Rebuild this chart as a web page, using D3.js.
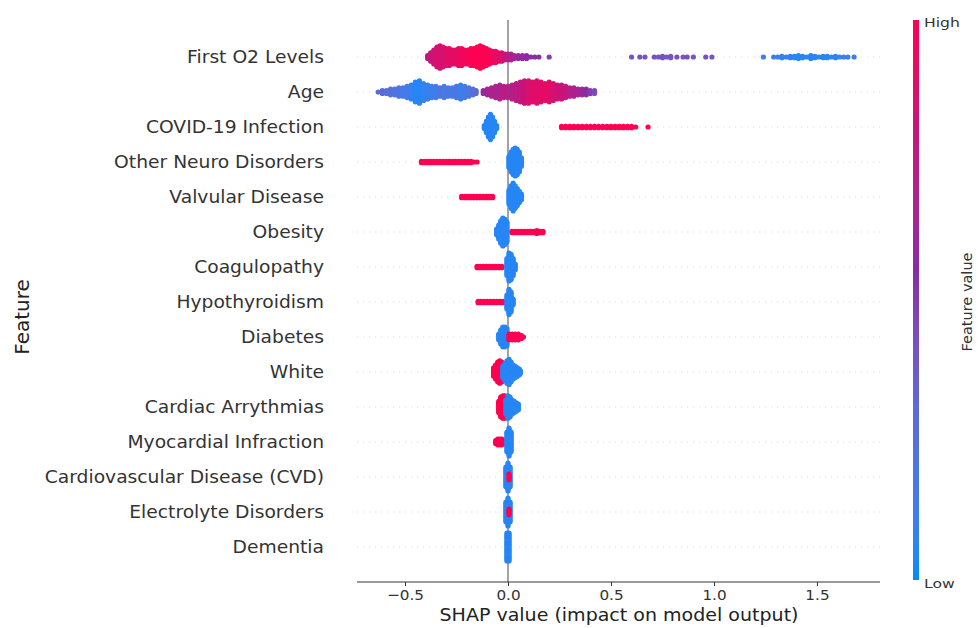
<!DOCTYPE html>
<html><head><meta charset="utf-8">
<script src="https://cdn.jsdelivr.net/npm/d3@7"></script>
<style>body{margin:0;background:#fff;} svg text{font-family:"DejaVu Sans",sans-serif;}</style>
</head><body><svg id="c" width="978" height="628"></svg>
<script>
// Feature names (top to bottom)
const features = ["First O2 Levels","Age","COVID-19 Infection","Other Neuro Disorders","Valvular Disease","Obesity","Coagulopathy","Hypothyroidism","Diabetes","White","Cardiac Arrythmias","Myocardial Infraction","Cardiovascular Disease (CVD)","Electrolyte Disorders","Dementia"];
const xTicks = [-0.5, 0, 0.5, 1, 1.5];
// Swarm bins: [SHAP value, number of stacked points, feature value 0(low)..1(high)]
const firstO2 = [[-0.39,3,0.8],[-0.375,7,0.8],[-0.36,11,0.82],[-0.345,15,0.85],[-0.33,17,0.85],[-0.315,15,0.85],[-0.3,13,0.88],[-0.285,13,0.9],[-0.27,11,0.9],[-0.255,11,0.92],[-0.24,13,0.92],[-0.225,13,0.95],[-0.21,11,0.95],[-0.195,11,0.97],[-0.18,13,1],[-0.165,13,1],[-0.15,15,1],[-0.135,17,1],[-0.12,15,1],[-0.105,13,1],[-0.09,11,0.98],[-0.075,9,0.95],[-0.06,9,0.92],[-0.045,7,0.9],[-0.03,7,0.85],[-0.015,5,0.8],[0,5,0.75],[0.015,5,0.7],[0.03,3,0.65],[0.05,3,0.6],[0.07,3,0.6],[0.09,3,0.55],[0.11,1,0.55],[0.13,1,0.55],[0.15,1,0.55],[0.2,1,0.5],
 [0.6,1,0.42],[0.64,1,0.42],[0.665,1,0.4],[0.71,1,0.42],[0.73,1,0.4],[0.75,2,0.42],[0.77,1,0.4],[0.79,2,0.4],[0.82,1,0.42],[0.85,1,0.4],[0.87,1,0.42],[0.9,1,0.4],[0.96,1,0.42],[0.99,1,0.4],
 [1.24,1,0.15],[1.29,1,0.1],[1.31,1,0.1],[1.33,2,0.08],[1.35,1,0.1],[1.37,2,0.08],[1.39,2,0.06],[1.41,3,0.05],[1.43,2,0.06],[1.45,1,0.08],[1.47,3,0.05],[1.49,2,0.06],[1.51,1,0.08],[1.53,2,0.05],[1.55,2,0.06],[1.57,1,0.1],[1.59,2,0.05],[1.61,1,0.08],[1.63,1,0.1],[1.65,1,0.12],[1.68,1,0.12]];
const age = [[-0.63,1,0.3],[-0.61,3,0.3],[-0.59,3,0.25],[-0.57,5,0.25],[-0.55,5,0.2],[-0.53,7,0.2],[-0.51,7,0.15],[-0.49,9,0.15],[-0.47,11,0.1],[-0.45,15,0.05],[-0.43,17,0.05],[-0.41,13,0.08],[-0.39,11,0.1],[-0.37,9,0.12],[-0.35,9,0.15],[-0.33,7,0.2],[-0.31,9,0.15],[-0.29,7,0.2],[-0.27,7,0.15],[-0.25,9,0.2],[-0.23,11,0.1],[-0.21,9,0.15],[-0.19,7,0.2],[-0.17,5,0.25],[-0.155,3,0.3],
 [-0.12,3,0.6],[-0.1,5,0.65],[-0.08,7,0.7],[-0.06,9,0.65],[-0.04,11,0.7],[-0.02,9,0.75],[0,9,0.7],[0.02,11,0.72],[0.04,13,0.75],[0.06,15,0.78],[0.08,17,0.8],[0.1,17,0.85],[0.12,15,0.9],[0.14,17,0.88],[0.16,15,0.9],[0.18,13,0.92],[0.2,15,0.88],[0.22,13,0.85],[0.24,11,0.82],[0.26,11,0.8],[0.28,9,0.78],[0.3,7,0.72],[0.32,7,0.7],[0.34,5,0.65],[0.36,5,0.6],[0.38,5,0.55],[0.4,3,0.5],[0.42,3,0.45]];
const covid = [[-0.115,3,0.05],[-0.105,9,0.05],[-0.095,15,0.05],[-0.085,19,0.05],[-0.075,15,0.05],[-0.065,9,0.05],[-0.055,3,0.05],
 [0.26,2,1],[0.28,2,1],[0.3,2,1],[0.32,2,1],[0.34,2,1],[0.36,2,1],[0.38,2,1],[0.4,2,1],[0.42,2,1],[0.44,2,1],[0.46,2,1],[0.48,2,1],[0.5,2,1],[0.52,2,1],[0.54,2,1],[0.56,2,1],[0.58,2,1],[0.6,2,1],[0.62,1,1],[0.68,1,1]];
const otherNeuro = [[-0.42,2,1],[-0.405,2,1],[-0.39,2,1],[-0.375,2,1],[-0.36,2,1],[-0.345,2,1],[-0.33,2,1],[-0.315,2,1],[-0.3,2,1],[-0.285,2,1],[-0.27,2,1],[-0.255,2,1],[-0.24,2,1],[-0.225,2,1],[-0.21,2,1],[-0.195,2,1],[-0.18,2,1],[-0.165,1,1],[-0.15,1,1],
 [0.005,9,0.05],[0.015,15,0.05],[0.025,19,0.05],[0.035,21,0.05],[0.045,19,0.05],[0.055,15,0.05],[0.065,7,0.05]];
const valvular = [[-0.225,2,1],[-0.21,2,1],[-0.195,2,1],[-0.18,2,1],[-0.165,2,1],[-0.15,2,1],[-0.135,2,1],[-0.12,2,1],[-0.105,2,1],[-0.09,2,1],[-0.075,2,1],
 [0.005,11,0.05],[0.015,17,0.05],[0.025,21,0.05],[0.035,17,0.05],[0.045,13,0.05],[0.055,9,0.05],[0.065,5,0.05]];
const obesity = [[-0.055,5,0.05],[-0.045,11,0.05],[-0.035,17,0.05],[-0.025,21,0.05],[-0.015,19,0.05],[-0.005,15,0.05],
 [0.02,2,1],[0.035,2,1],[0.05,2,1],[0.065,2,1],[0.08,2,1],[0.095,2,1],[0.11,2,1],[0.125,2,1],[0.14,3,1],[0.155,2,1],[0.17,2,1]];
const coagulopathy = [[-0.15,2,1],[-0.135,2,1],[-0.12,2,1],[-0.105,2,1],[-0.09,2,1],[-0.075,2,1],[-0.06,2,1],[-0.045,2,1],[-0.03,2,1],
 [-0.005,13,0.05],[0.005,21,0.05],[0.015,19,0.05],[0.025,13,0.05],[0.035,5,0.05]];
const hypothyroidism = [[-0.145,2,1],[-0.13,2,1],[-0.115,2,1],[-0.1,2,1],[-0.085,2,1],[-0.07,2,1],[-0.055,2,1],[-0.04,2,1],[-0.025,2,1],
 [-0.005,11,0.05],[0.005,19,0.05],[0.015,15,0.05],[0.025,5,0.05]];
const diabetes = [[-0.045,5,0.05],[-0.035,11,0.05],[-0.025,15,0.05],[-0.015,15,0.05],[-0.005,13,0.05],
 [0.005,5,1],[0.02,5,1],[0.035,5,1],[0.05,5,1],[0.065,3,1],[0.075,1,1]];
const white = [[-0.07,7,1],[-0.06,11,1],[-0.05,15,1],[-0.04,17,1],[-0.03,15,1],[-0.02,13,1],[-0.01,11,1],
 [-0.025,9,0.05],[-0.015,13,0.05],[-0.005,17,0.05],[0.005,19,0.05],[0.015,15,0.05],[0.025,11,0.05],[0.035,9,0.05],[0.045,7,0.05],[0.055,5,0.05],[0.06,3,0.05]];
const cardiac = [[-0.045,9,1],[-0.035,15,1],[-0.025,17,1],[-0.015,17,1],[-0.005,13,1],
 [-0.01,11,0.05],[0,17,0.05],[0.01,15,0.05],[0.02,11,0.05],[0.03,9,0.05],[0.04,7,0.05],[0.05,5,0.05]];
const myocardial = [[-0.06,3,1],[-0.05,5,1],[-0.04,5,1],[-0.03,5,1],[-0.02,3,1],
 [-0.005,15,0.05],[0.005,21,0.05],[0.015,15,0.05]];
const cvd = [[-0.01,15,0.05],[0,21,0.05],[0.01,15,0.05],[0.005,5,1]];
const electrolyte = [[-0.01,15,0.05],[0,21,0.05],[0.01,15,0.05],[0.005,5,1]];
const dementia = [[-0.005,21,0.05],[0.005,21,0.05]];
const swarms = [firstO2, age, covid, otherNeuro, valvular, obesity, coagulopathy, hypothyroidism, diabetes, white, cardiac, myocardial, cvd, electrolyte, dementia];

const svg = d3.select("#c");
const x = d3.scaleLinear().domain([-0.733, 1.806]).range([357, 880]);
const y = d3.scalePoint().domain(features).range([57, 547]);
const color = d3.scaleLinear().domain([0, 0.3, 0.55, 0.8, 1])
  .range(["#008bfb", "#5b6bd6", "#8a2ca6", "#c8147a", "#ff0052"]).interpolate(d3.interpolateLab);

// dashed row guides
svg.append("g").selectAll("line").data(features).join("line")
  .attr("x1", 357).attr("x2", 880).attr("y1", d => y(d)).attr("y2", d => y(d))
  .attr("stroke", "#cccccc").attr("stroke-width", 0.7).attr("stroke-dasharray", "1,5");
// zero line
svg.append("line").attr("x1", x(0)).attr("x2", x(0)).attr("y1", 20).attr("y2", 582)
  .attr("stroke", "#999").attr("stroke-width", 1.8);

// dots
const spacing = 1.4, r = 2.6;
const pts = [];
swarms.forEach((bins, i) => {
  bins.forEach(([v, n, c]) => {
    for (let k = 0; k < n; k++) {
      const off = (k - (n - 1) / 2) * spacing;
      pts.push({v, f: features[i], off, c});
    }
  });
});
svg.append("g").selectAll("circle").data(pts).join("circle")
  .attr("cx", d => x(d.v)).attr("cy", d => y(d.f) + d.off).attr("r", r)
  .attr("fill", d => color(d.c));

// y labels (slightly widened like the reference)
svg.append("g").selectAll("text").data(features).join("text")
  .attr("transform", d => `translate(324,${y(d)}) scale(1.1,1)`).attr("dy", "0.35em").attr("text-anchor", "end")
  .attr("font-size", 17).attr("fill", "#333").text(d => d);

// x axis
const xa = svg.append("g").attr("transform", "translate(0,582)")
  .call(d3.axisBottom(x).tickValues(xTicks).tickFormat(d3.format(".1f")).tickSize(4).tickPadding(4));
xa.select(".domain").attr("stroke", "#333").attr("d", "M357,0H880");
xa.selectAll(".tick line").attr("stroke", "#333");
xa.selectAll(".tick text").attr("font-size", 14.5).attr("fill", "#333").attr("font-family", "DejaVu Sans")
  .attr("transform", "scale(1.05,1)");
svg.append("text").attr("transform", "translate(619,621) scale(1.12,1)").attr("text-anchor", "middle")
  .attr("font-size", 17).attr("fill", "#222").text("SHAP value (impact on model output)");
svg.append("text").attr("transform", "translate(29,317) rotate(-90)").attr("text-anchor", "middle")
  .attr("font-size", 20).attr("fill", "#222").text("Feature");

// colorbar
const grad = svg.append("defs").append("linearGradient").attr("id", "cb")
  .attr("x1", 0).attr("y1", 1).attr("x2", 0).attr("y2", 0);
d3.range(0, 1.0001, 0.05).forEach(t => grad.append("stop").attr("offset", t).attr("stop-color", color(t)));
svg.append("rect").attr("x", 913).attr("y", 20).attr("width", 6).attr("height", 560).attr("fill", "url(#cb)");
svg.append("text").attr("transform", "translate(924,22) scale(1.2,1)").attr("dy", "0.35em").attr("font-size", 13).attr("fill", "#333").text("High");
svg.append("text").attr("transform", "translate(924,583) scale(1.2,1)").attr("dy", "0.35em").attr("font-size", 13).attr("fill", "#333").text("Low");
svg.append("text").attr("transform", "translate(967,302) rotate(-90)").attr("text-anchor", "middle")
  .attr("dy", "0.35em").attr("font-size", 14.5).attr("fill", "#333").text("Feature value");
</script></body></html>
